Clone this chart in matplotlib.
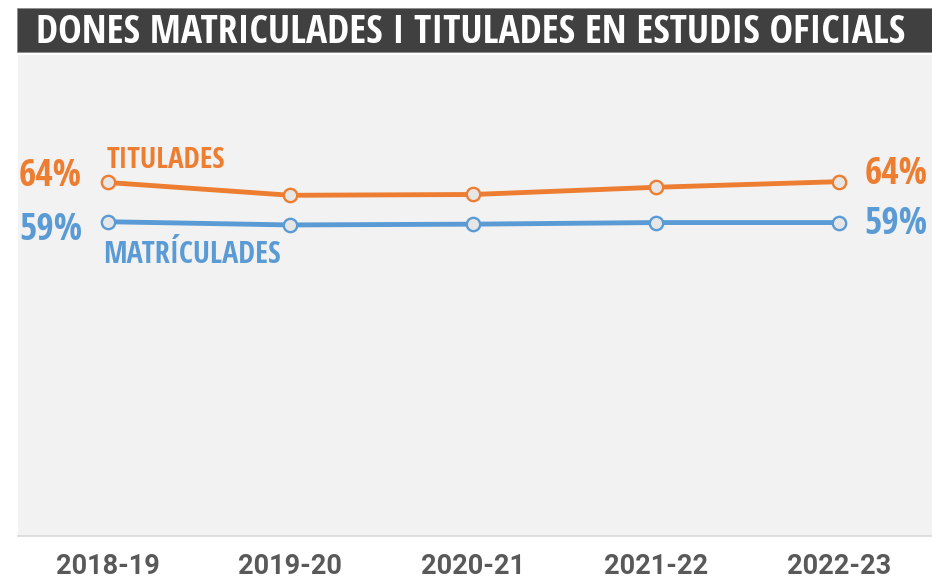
import matplotlib
matplotlib.use("Agg")
import matplotlib.pyplot as plt
from matplotlib.patches import Rectangle

# ---- data ----
years = ["2018-19", "2019-20", "2020-21", "2021-22", "2022-23"]
titulades = [64.1, 62.5, 62.6, 63.5, 64.2]
matriculades = [59.2, 58.8, 58.9, 59.1, 59.1]
title = "DONES MATRICULADES I TITULADES EN ESTUDIS OFICIALS"

ORANGE = "#ED7D31"
BLUE = "#5B9BD5"
BG = "#F2F2F2"
BAR = "#404040"
TICK = "#595959"
COND = ["Open Sans Condensed", "DejaVu Sans"]

W, H = 932, 578
fig = plt.figure(figsize=(W / 100, H / 100), dpi=100)
fig.patch.set_facecolor("white")

# title bar
fig.patches.append(Rectangle((17 / W, 1 - 52 / H), 1 - 17 / W, 44 / H,
                             transform=fig.transFigure, facecolor=BAR,
                             edgecolor="#8C8C8C", linewidth=0.6, zorder=0))
fig.text((38 + 903) / 2 / W, 1 - 43 / H, title, color="white",
         family=COND, weight="bold", fontsize=28.5, ha="center", va="baseline")

ax = fig.add_axes([18 / W, (H - 536) / H, 1 - 18 / W, (536 - 55) / H])
ax.set_facecolor(BG)
ax.set_xlim(-0.49, 4.51)
ax.set_ylim(20, 80)
for s in ["top", "left", "right"]:
    ax.spines[s].set_visible(False)
ax.spines["bottom"].set_color("#D9D9D9")
ax.spines["bottom"].set_linewidth(1.2)
ax.set_yticks([])
x = list(range(len(years)))
ax.set_xticks(x)
ax.set_xticklabels(years, family=["Roboto", "DejaVu Sans"], weight="bold",
                   fontsize=19.5, color=TICK)
ax.tick_params(axis="x", length=0, pad=12)

mk = dict(marker="o", markersize=9.6, markerfacecolor="#E7E6E6",
          markeredgewidth=1.7, linewidth=3.5, solid_capstyle="round")
ax.plot(x, matriculades, color=BLUE, markeredgecolor=BLUE, **mk)
ax.plot(x, titulades, color=ORANGE, markeredgecolor=ORANGE, **mk)

P = 0.72  # px -> pt
lab = dict(family=COND, weight="bold", textcoords="offset points", va="baseline")
ax.annotate(f"{round(titulades[0])}%", (x[0], titulades[0]), xytext=(-25.5 * P, -3.7 * P),
            ha="right", fontsize=27, color=ORANGE, **lab)
ax.annotate(f"{round(matriculades[0])}%", (x[0], matriculades[0]), xytext=(-25.5 * P, -18.3 * P),
            ha="right", fontsize=27, color=BLUE, **lab)
ax.annotate(f"{round(titulades[-1])}%", (x[-1], titulades[-1]), xytext=(26 * P, -2.3 * P),
            ha="left", fontsize=27, color=ORANGE, **lab)
ax.annotate(f"{round(matriculades[-1])}%", (x[-1], matriculades[-1]), xytext=(26 * P, -11.7 * P),
            ha="left", fontsize=27, color=BLUE, **lab)
ax.annotate("TITULADES", (x[0], titulades[0]), xytext=(-1 * P, 14 * P),
            ha="left", fontsize=21, color=ORANGE, **lab)
ax.annotate("MATRÍCULADES", (x[0], matriculades[0]), xytext=(-4 * P, -41.3 * P),
            ha="left", fontsize=21.8, color=BLUE, **lab)

fig.savefig("out.png", dpi=100, facecolor=fig.get_facecolor())
